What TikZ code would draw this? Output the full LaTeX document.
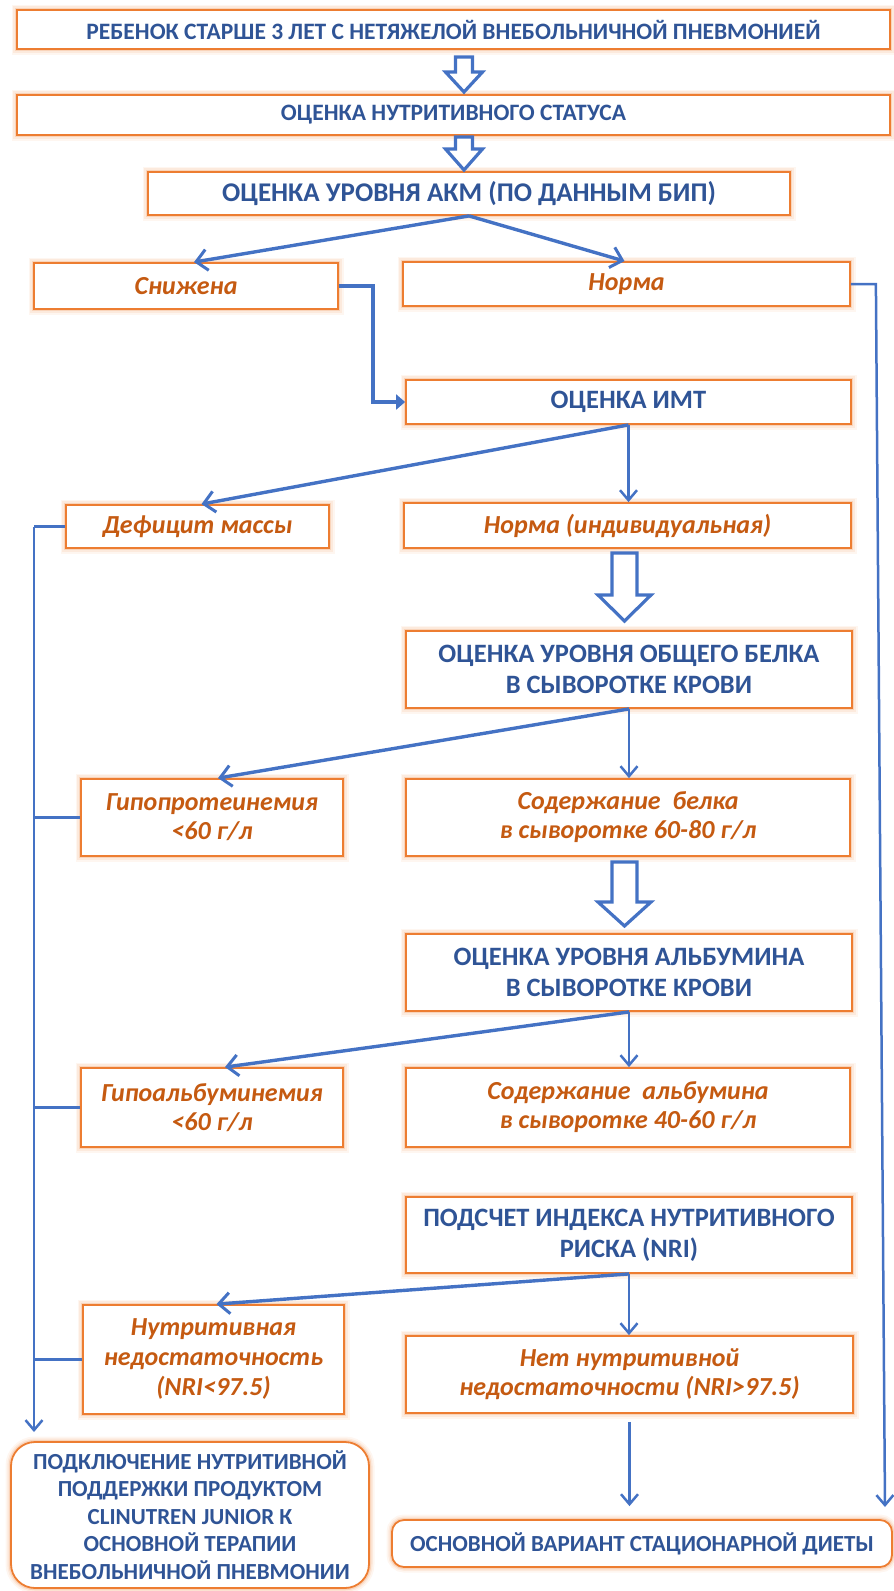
\documentclass[tikz,border=0pt]{standalone}
\usepackage{fontspec}
\setmainfont{Carlito}
\usetikzlibrary{arrows.meta}
\definecolor{tblue}{RGB}{47,84,150}
\definecolor{lblue}{RGB}{68,114,196}
\definecolor{obord}{RGB}{237,125,49}
\definecolor{otext}{RGB}{197,90,17}
\newcommand\blockarr[6]{% x, top, headstart, tip, half shaft, half head
  \draw[hollow] (#1-#5,#2) -- (#1+#5,#2) -- (#1+#5,#3) -- (#1+#6,#3) -- (#1,#4) -- (#1-#6,#3) -- (#1-#5,#3) -- cycle;}
\tikzset{
  glow/.style={preaction={draw=obord,line width=11pt,opacity=0.07},
               preaction={draw=obord,line width=7.5pt,opacity=0.1},
               preaction={draw=obord,line width=4.5pt,opacity=0.2}},
  box/.style={glow,draw=obord,line width=1.8pt,fill=white,inner sep=0pt,align=center},
  bluet/.style={text=tblue,font=\bfseries\fontsize{26.5}{31}\selectfont},
  smallblue/.style={text=tblue,font=\bfseries\fontsize{23.5}{27}\selectfont},
  oranget/.style={text=otext,font=\bfseries\itshape\fontsize{26}{29}\selectfont},
  conn/.style={draw=lblue,line width=2.5pt,-{Straight Barb[length=10pt,width=17pt,line width=2.5pt]}},
  diag/.style={draw=lblue,line width=3.4pt,-{Straight Barb[length=11pt,width=21pt,line width=3pt]}},
  plain/.style={draw=lblue,line width=2.7pt},
  hollow/.style={draw=lblue,line width=3.2pt,fill=white,line join=miter},
}
\begin{document}
\begin{tikzpicture}[x=1pt,y=-1pt]
\useasboundingbox (0,0) rectangle (894,1591);
% nodes
\node[box,smallblue,minimum width=873,minimum height=39] (b1) at (453.5,29.5) {РЕБЕНОК СТАРШЕ 3 ЛЕТ С НЕТЯЖЕЛОЙ ВНЕБОЛЬНИЧНОЙ ПНЕВМОНИЕЙ};
\node[box,smallblue,minimum width=873,minimum height=40] (b2) at (453.5,115) {ОЦЕНКА НУТРИТИВНОГО СТАТУСА};
\node[box,bluet,font=\bfseries\fontsize{27}{31}\selectfont,minimum width=642,minimum height=43] (b3) at (469,193.5) {ОЦЕНКА УРОВНЯ АКМ (ПО ДАННЫМ БИП)};
\node[box,oranget,minimum width=304,minimum height=46] (sn) at (186,286) {Снижена};
\node[box,oranget,minimum width=447,minimum height=44] (nr) at (626.5,284) {Норма};
\node[box,bluet,minimum width=445,minimum height=44] (imt) at (628.5,402) {ОЦЕНКА ИМТ};
\node[box,oranget,minimum width=263,minimum height=43] (def) at (197.5,526.5) {Дефицит массы};
\node[box,oranget,minimum width=447,minimum height=45] (nri) at (627.5,525.5) {Норма (индивидуальная)};
\node[box,bluet,minimum width=446,minimum height=77] (prot) at (629,669.5) {ОЦЕНКА УРОВНЯ ОБЩЕГО БЕЛКА\\ В СЫВОРОТКЕ КРОВИ};
\node[box,oranget,minimum width=262,minimum height=77] (hypo) at (212,817.5) {Гипопротеинемия\\<60 г/л};
\node[box,oranget,minimum width=444,minimum height=77] (sod1) at (628,817.5) {Содержание\ \ белка\\в сыворотке 60-80 г/л};
\node[box,bluet,minimum width=446,minimum height=77] (alb) at (629,972.5) {ОЦЕНКА УРОВНЯ АЛЬБУМИНА\\ В СЫВОРОТКЕ КРОВИ};
\node[box,oranget,minimum width=262,minimum height=79] (hypa) at (212,1107.5) {Гипоальбуминемия\\<60 г/л};
\node[box,oranget,minimum width=444,minimum height=79] (sod2) at (628,1107.5) {Содержание\ \ альбумина\\в сыворотке 40-60 г/л};
\node[box,bluet,minimum width=446,minimum height=76] (nrix) at (629,1235) {ПОДСЧЕТ ИНДЕКСА НУТРИТИВНОГО\\РИСКА (NRI)};
\node[box,oranget,font=\bfseries\itshape\fontsize{26}{30}\selectfont,minimum width=261,minimum height=109] (nut) at (213.5,1359.5) {Нутритивная\\недостаточность\\(NRI<97.5)};
\node[box,oranget,minimum width=447,minimum height=77] (net) at (629.5,1374.5) {Нет нутритивной\\недостаточности (NRI>97.5)};
\node[box,bluet,font=\bfseries\fontsize{23}{27.5}\selectfont,rounded corners=24pt,minimum width=358,minimum height=146] (fin1) at (190,1515) {ПОДКЛЮЧЕНИЕ НУТРИТИВНОЙ\\ПОДДЕРЖКИ ПРОДУКТОМ\\CLINUTREN JUNIOR К\\ОСНОВНОЙ ТЕРАПИИ\\ВНЕБОЛЬНИЧНОЙ ПНЕВМОНИИ};
\node[box,bluet,font=\bfseries\fontsize{23}{27}\selectfont,rounded corners=12pt,minimum width=500,minimum height=47] (fin2) at (642,1543.5) {ОСНОВНОЙ ВАРИАНТ СТАЦИОНАРНОЙ ДИЕТЫ};
% block arrows
\blockarr{464}{57}{72}{92}{8.5}{18.5}
\blockarr{464}{137}{149}{170}{8.5}{18.5}
\blockarr{624.5}{553}{595}{621}{12.5}{26.5}
\blockarr{624.5}{862}{902}{926}{12.5}{26.5}
% connectors
\draw[diag] (b3.south) -- ([xshift=8pt]sn.north);
\draw[diag] (b3.south) -- ([xshift=-2pt]nr.north);
\draw[draw=lblue,line width=3.4pt,-{Triangle[length=9pt,width=15pt]}] (sn.east) -- ++(34,0) |- (imt.west);
\coordinate (rt) at (885,1507);
\draw[conn] (nr.east) -- ++(25,0) -- (rt);
\draw[diag] (imt.south) -- ([xshift=4pt]def.north);
\draw[conn] (imt.south) -- (imt.south |- nri.north);
\draw[diag] (prot.south) -- ([xshift=6pt]hypo.north);
\draw[conn] (prot.south) -- (prot.south |- sod1.north);
\draw[diag] (alb.south) -- ([xshift=13pt]hypa.north);
\draw[conn] (alb.south) -- (alb.south |- sod2.north);
\draw[diag] (nrix.south) -- ([xshift=3pt]nut.north);
\draw[conn] (nrix.south) -- (nrix.south |- net.north);
\draw[conn] ([yshift=-8pt]net.south) -- ([yshift=13pt]net.south |- fin2.north);
% left bus
\coordinate (bus) at (34,526.5);
\coordinate (busEnd) at (34,1432);
\draw[plain] (def.west) -- (bus);
\draw[conn] (bus) -- (busEnd);
\draw[plain] (hypo.west) -- (hypo.west -| bus);
\draw[plain] (hypa.west) -- (hypa.west -| bus);
\draw[plain] (nut.west) -- (nut.west -| bus);
\end{tikzpicture}
\end{document}
